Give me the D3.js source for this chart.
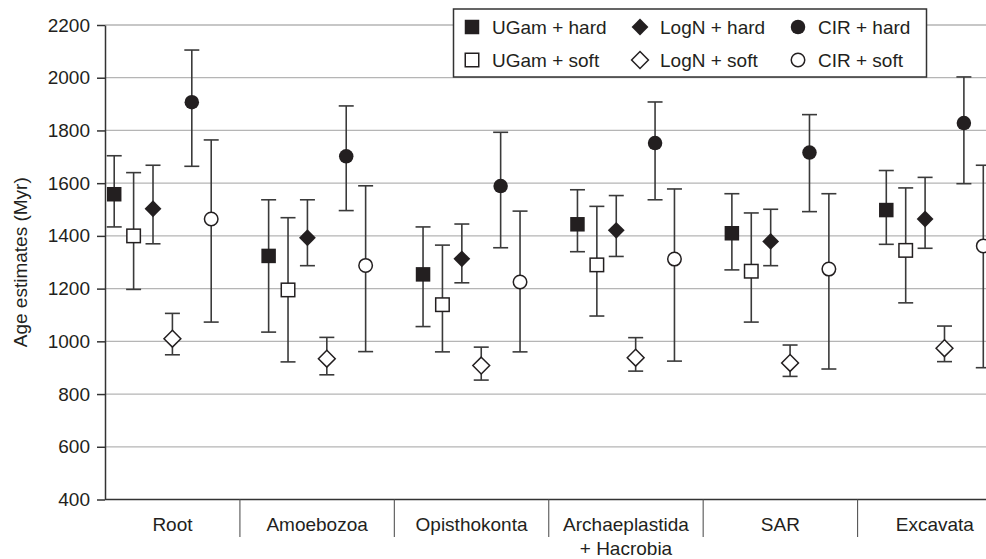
<!DOCTYPE html>
<meta charset="utf-8">
<style>

body {
  margin: 0;
  background: #fff;
}

text {
  font-family: "Liberation Sans", Arial, Helvetica, sans-serif;
  font-size: 19px;
  fill: #231f20;
}

.grid line {
  stroke: #b5b5b5;
  stroke-width: 1.3px;
}

.axis path,
.axis line {
  stroke: #333;
  stroke-width: 1.5px;
}

.err {
  stroke: #3a3a3a;
  stroke-width: 1.6px;
  fill: none;
}

</style>
<svg width="986" height="559"></svg>
<script src="https://d3js.org/d3.v7.min.js"></script>
<script>

// clades on the x axis
var categories = ["Root", "Amoebozoa", "Opisthokonta", "Archaeplastida\n+ Hacrobia", "SAR", "Excavata"];

// series names, in plotting order
var seriesNames = ["UGam + hard", "UGam + soft", "LogN + hard", "LogN + soft", "CIR + hard", "CIR + soft"];

// estimates (Myr) with lower / upper bounds, one value per clade
var ugamHard    = [1558, 1324, 1254, 1444, 1410, 1498];
var ugamHardLo  = [1434, 1035, 1056, 1340, 1271, 1368];
var ugamHardHi  = [1704, 1537, 1434, 1575, 1560, 1648];

var ugamSoft    = [1400, 1195, 1139, 1290, 1266, 1345];
var ugamSoftLo  = [1197,  922,  960, 1096, 1073, 1146];
var ugamSoftHi  = [1640, 1469, 1365, 1512, 1487, 1582];

var lognHard    = [1503, 1393, 1313, 1421, 1379, 1464];
var lognHardLo  = [1370, 1287, 1222, 1322, 1287, 1353];
var lognHardHi  = [1668, 1537, 1445, 1553, 1501, 1622];

var lognSoft    = [1010,  934,  908,  938,  918,  974];
var lognSoftLo  = [ 949,  873,  853,  887,  867,  923];
var lognSoftHi  = [1106, 1015,  978, 1014,  986, 1058];

var cirHard     = [1907, 1702, 1589, 1752, 1716, 1828];
var cirHardLo   = [1664, 1496, 1355, 1537, 1492, 1598];
var cirHardHi   = [2105, 1893, 1793, 1908, 1860, 2003];

var cirSoft     = [1464, 1288, 1225, 1312, 1274, 1362];
var cirSoftLo   = [1073,  961,  960,  925,  895,  900];
var cirSoftHi   = [1764, 1590, 1494, 1578, 1560, 1668];

var yTicks = [400, 600, 800, 1000, 1200, 1400, 1600, 1800, 2000, 2200];

var series = [
  {name: seriesNames[0], shape: "square",  filled: true,  mid: ugamHard, lo: ugamHardLo, hi: ugamHardHi},
  {name: seriesNames[1], shape: "square",  filled: false, mid: ugamSoft, lo: ugamSoftLo, hi: ugamSoftHi},
  {name: seriesNames[2], shape: "diamond", filled: true,  mid: lognHard, lo: lognHardLo, hi: lognHardHi},
  {name: seriesNames[3], shape: "diamond", filled: false, mid: lognSoft, lo: lognSoftLo, hi: lognSoftHi},
  {name: seriesNames[4], shape: "circle",  filled: true,  mid: cirHard,  lo: cirHardLo,  hi: cirHardHi},
  {name: seriesNames[5], shape: "circle",  filled: false, mid: cirSoft,  lo: cirSoftLo,  hi: cirSoftHi}
];

var svg = d3.select("svg"),
    axisX = 105,
    plotTop = 25,
    plotBottom = 499.5,
    plotRight = +svg.attr("width");

var x = d3.scaleBand().domain(categories).range([85.5, 1012]),
    inner = d3.scalePoint().domain(seriesNames).range([-48.5, 48.5]),
    y = d3.scaleLinear().domain([400, 2200]).range([plotBottom, plotTop]);

// horizontal gridlines
svg.append("g")
    .attr("class", "grid")
  .selectAll("line")
  .data(yTicks.slice(1))
  .enter().append("line")
    .attr("x1", axisX)
    .attr("x2", plotRight)
    .attr("y1", function(d) { return y(d); })
    .attr("y2", function(d) { return y(d); });

// y axis
var yAxis = svg.append("g")
    .attr("class", "axis axis--y")
    .attr("transform", "translate(" + axisX + ",0)")
    .call(d3.axisLeft(y).tickValues(yTicks).tickSize(8).tickPadding(7).tickSizeOuter(0).tickFormat(d3.format("d")));
yAxis.selectAll("text").style("font-size", "19px").attr("fill", "#231f20").style("font-family", "'Liberation Sans', Arial, sans-serif");

// x axis line and category separators
svg.append("line")
    .attr("x1", axisX).attr("x2", plotRight)
    .attr("y1", plotBottom).attr("y2", plotBottom)
    .attr("stroke", "#333").attr("stroke-width", 1.5);

svg.append("g")
  .selectAll("line")
  .data(categories.slice(1))
  .enter().append("line")
    .attr("x1", function(d) { return x(d); })
    .attr("x2", function(d) { return x(d); })
    .attr("y1", plotBottom)
    .attr("y2", 537)
    .attr("stroke", "#555")
    .attr("stroke-width", 1.1);

var labels = svg.append("g")
  .selectAll("text")
  .data(categories)
  .enter().append("text")
    .attr("text-anchor", "middle")
    .attr("transform", function(d) {
      var x0 = Math.max(x(d), axisX), x1 = x(d) + x.bandwidth();
      return "translate(" + ((x0 + x1) / 2) + ",531)";
    });

labels.selectAll("tspan")
  .data(function(d) { return d.split("\n"); })
  .enter().append("tspan")
    .attr("x", 0)
    .attr("dy", function(d, i) { return i ? 24 : 0; })
    .text(function(d) { return d; });

svg.append("text")
    .attr("transform", "translate(27," + ((plotTop + plotBottom) / 2) + ") rotate(-90)")
    .attr("text-anchor", "middle")
    .text("Age estimates (Myr)");

// marker drawing
function drawMarker(sel, s, size) {
  var fill = s.filled ? "#231f20" : "#fff";
  if (s.shape === "square") {
    var w = s.filled ? size : size - 1;
    sel.append("rect")
        .attr("x", -w / 2).attr("y", -w / 2)
        .attr("width", w).attr("height", w)
        .attr("fill", fill)
        .attr("stroke", "#231f20")
        .attr("stroke-width", s.filled ? 0 : 1.5);
  } else if (s.shape === "diamond") {
    var h = size * 0.58;
    sel.append("path")
        .attr("d", "M0," + (-h) + "L" + h + ",0L0," + h + "L" + (-h) + ",0Z")
        .attr("fill", fill)
        .attr("stroke", "#231f20")
        .attr("stroke-width", s.filled ? 0 : 1.5);
  } else {
    sel.append("circle")
        .attr("r", s.filled ? size / 2 : size / 2 - 0.5)
        .attr("fill", fill)
        .attr("stroke", "#231f20")
        .attr("stroke-width", s.filled ? 0 : 1.5);
  }
}

// error bars and points
var groups = svg.append("g")
  .selectAll("g")
  .data(series)
  .enter().append("g");

groups.each(function(s) {
  var g = d3.select(this);
  categories.forEach(function(c, i) {
    var cx = x(c) + x.bandwidth() / 2 + inner(s.name);
    var pt = g.append("g").attr("transform", "translate(" + cx + ",0)");
    pt.append("line").attr("class", "err")
        .attr("x1", 0).attr("x2", 0)
        .attr("y1", y(s.lo[i])).attr("y2", y(s.hi[i]));
    pt.append("line").attr("class", "err")
        .attr("x1", -7.5).attr("x2", 7.5)
        .attr("y1", y(s.hi[i])).attr("y2", y(s.hi[i]));
    pt.append("line").attr("class", "err")
        .attr("x1", -7.5).attr("x2", 7.5)
        .attr("y1", y(s.lo[i])).attr("y2", y(s.lo[i]));
    var m = pt.append("g").attr("transform", "translate(0," + y(s.mid[i]) + ")");
    drawMarker(m, s, 14.5);
  });
});

// legend
var legend = svg.append("g");

legend.append("rect")
    .attr("x", 453.5).attr("y", 9)
    .attr("width", 473).attr("height", 68)
    .attr("fill", "#fff")
    .attr("stroke", "#333")
    .attr("stroke-width", 1.5);

var legendCols = [472, 640, 798];

var item = legend.selectAll(".item")
  .data(series)
  .enter().append("g")
    .attr("class", "item")
    .attr("transform", function(d, i) {
      var col = Math.floor(i / 2), row = i % 2;
      return "translate(" + legendCols[col] + "," + (row ? 60 : 27) + ")";
    });

item.each(function(s) { drawMarker(d3.select(this), s, 14.5); });

item.append("text")
    .attr("x", 20)
    .attr("dy", "0.36em")
    .text(function(d) { return d.name; });

</script>
